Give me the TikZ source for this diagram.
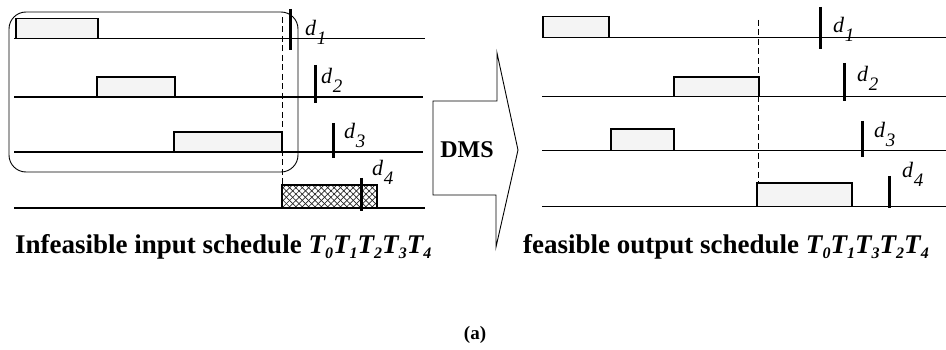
\documentclass[tikz,border=0pt]{standalone}
\usepackage{fontspec}
\setmainfont{Liberation Serif}
\usetikzlibrary{patterns.meta}
\newcommand{\Tsub}[1]{\textit{T}\kern-0.03em\raisebox{-0.2em}{\fontsize{16}{16}\selectfont\textit{#1}}}
\newcommand{\dsub}[1]{d\kern0.03em\raisebox{-0.38em}{\fontsize{19}{19}\selectfont #1}}
\begin{document}
\begin{tikzpicture}[x=1pt,y=-1pt,
  tl/.style={line width=1.3pt},
  job/.style={draw, line width=1.4pt, fill=gray!9},
  hatchA/.style={pattern={Lines[angle=45,distance=4.5pt,line width=0.7pt]}, pattern color=black!85},
  hatchB/.style={pattern={Lines[angle=-45,distance=4.5pt,line width=0.7pt]}, pattern color=black!85},
  ddl/.style={line width=3pt},
  dlab/.style={anchor=base west, inner sep=0pt, font=\itshape\fontsize{22}{22}\selectfont},
  captext/.style={anchor=base west, inner sep=0pt, font=\bfseries\fontsize{27}{27}\selectfont},
  dashv/.style={line width=1pt, dash pattern=on 6pt off 3.5pt},
  group/.style={draw, line width=0.9pt, rounded corners=17pt},
  bigarrow/.style={draw, line width=0.9pt}]
\useasboundingbox (0,0) rectangle (946,350);

% ---------------- left panel ----------------
\draw[group] (9,12) rectangle (298,172);
\coordinate (L1a) at (14,38.7);  \coordinate (L1b) at (425,38.7);
\coordinate (L2a) at (14,97);    \coordinate (L2b) at (423,97);
\coordinate (L3a) at (14,152);   \coordinate (L3b) at (423,152);
\coordinate (L4a) at (14,208);   \coordinate (L4b) at (425,208);
\draw[tl] (L1a) -- (L1b);
\draw[tl] (L2a) -- (L2b);
\draw[tl] (L3a) -- (L3b);
\draw[tl] (L4a) -- (L4b);
\draw[job] (16,18.7) rectangle (98,38.7);
\draw[job] (97,77) rectangle (175,97);
\draw[job] (174,132) rectangle (282,152);
\fill[hatchA] (282,185) rectangle (377,208);
\fill[hatchB] (282,185) rectangle (377,208);
\draw[line width=1.4pt] (282,185) rectangle (377,208);
\draw[dashv] (282,17) -- (282,185);
\draw[ddl] (290,9) -- (290,50);
\draw[ddl] (315,65) -- (315,103);
\draw[ddl] (333,123) -- (333,158);
\draw[ddl] (361,178) -- (361,211);
\node[dlab] (ld1) at (305,36) {\dsub{1}};
\node[dlab] (ld2) at (321,84) {\dsub{2}};
\node[dlab] (ld3) at (344,139) {\dsub{3}};
\node[dlab] (ld4) at (372,176) {\dsub{4}};
\node[captext] (lcap) at (15,253) {Infeasible input schedule \Tsub{0}\Tsub{1}\Tsub{2}\Tsub{3}\Tsub{4}};

% ---------------- arrow ----------------
\draw[bigarrow] (433,101) -- (497,101) -- (497,53) -- (518,150) -- (496,247) -- (496,195) -- (433,195) -- cycle;
\node[font=\bfseries\fontsize{24}{24}\selectfont, inner sep=0pt] (dms) at (467,150) {DMS};

% ---------------- right panel ----------------
\coordinate (R1a) at (543,37.7);  \coordinate (R1b) at (946,37.7);
\coordinate (R2a) at (542,96.7);  \coordinate (R2b) at (946,96.7);
\coordinate (R3a) at (542,150.7); \coordinate (R3b) at (946,150.7);
\coordinate (R4a) at (542,206.7); \coordinate (R4b) at (946,206.7);
\draw[tl] (R1a) -- (R1b);
\draw[tl] (R2a) -- (R2b);
\draw[tl] (R3a) -- (R3b);
\draw[tl] (R4a) -- (R4b);
\draw[job] (543,16.7) rectangle (609,37.7);
\draw[job] (674,77) rectangle (759,96.7);
\draw[job] (611,129) rectangle (674,150.7);
\draw[job] (757,183) rectangle (852,206.7);
\draw[dashv] (758,20) -- (758,183);
\draw[ddl] (820,7) -- (820,49);
\draw[ddl] (844,63) -- (844,101);
\draw[ddl] (862,121) -- (862,157);
\draw[ddl] (889,176) -- (889,208);
\node[dlab] (rd1) at (833,33) {\dsub{1}};
\node[dlab] (rd2) at (857,82) {\dsub{2}};
\node[dlab] (rd3) at (874,138) {\dsub{3}};
\node[dlab] (rd4) at (902,178) {\dsub{4}};
\node[captext] (rcap) at (523,253) {feasible output schedule \Tsub{0}\Tsub{1}\Tsub{3}\Tsub{2}\Tsub{4}};

\node[font=\bfseries\fontsize{19}{19}\selectfont, inner sep=0pt] (a) at (475,335) {(a)};
\end{tikzpicture}
\end{document}
